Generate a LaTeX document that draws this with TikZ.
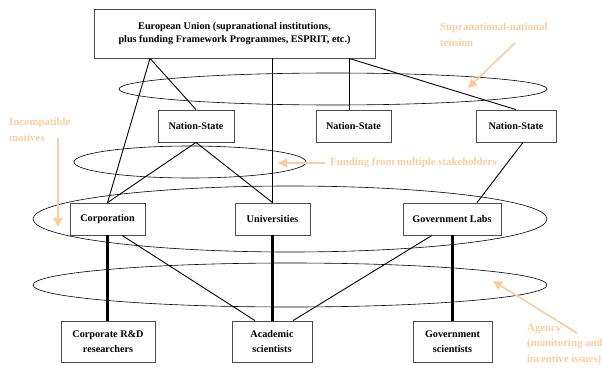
\documentclass[tikz,border=0pt]{standalone}
\usepackage{fontspec}
\setmainfont{Liberation Serif}
\usetikzlibrary{arrows.meta}
\definecolor{peach}{RGB}{253,204,158}
\begin{document}
\begin{tikzpicture}[x=1pt, y=-1pt,
    every node/.style={font=\bfseries\fontsize{10.2}{13}\selectfont},
    box/.style={draw=black!70, line width=0.8pt, fill=white, inner sep=0pt, align=center, minimum height=32pt},
    tallbox/.style={box, minimum height=41pt, font=\bfseries\fontsize{10.2}{14.5}\selectfont},
    link/.style={line width=0.9pt},
    heavy/.style={line width=3pt},
    ring/.style={line width=0.6pt},
    note/.style={text=peach, align=left, inner sep=0pt, font=\bfseries\fontsize{10.8}{15.5}\selectfont},
    notearrow/.style={draw=peach, line width=1.6pt, -{Triangle[width=9pt,length=9pt]}}]
  \useasboundingbox (0,0) rectangle (602,372);
  % 椭圆
  \draw[ring] (333,89) ellipse (214 and 16);
  \draw[ring] (190,162) ellipse (116 and 16);
  \draw[ring] (290,219) ellipse (257 and 33);
  \draw[ring] (290,285) ellipse (257 and 22);
  % 欧盟
  \node[box, minimum width=281pt, minimum height=49pt] (eu) at (234.5,33.5)
    {European Union (supranational institutions,\\plus funding Framework Programmes, ESPRIT, etc.)};
  % 国家
  \node[box, minimum width=76pt] (ns1) at (196,126) {Nation-State};
  \node[box, minimum width=75pt] (ns2) at (353.5,126) {Nation-State};
  \node[box, minimum width=80pt] (ns3) at (516,126) {Nation-State};
  % 机构
  \node[box, minimum width=75pt] (corp) at (107.5,219) {Corporation};
  \node[box, minimum width=75pt] (univ) at (272.5,219) {Universities};
  \node[box, minimum width=98pt] (govlab) at (452,219) {Government Labs};
  % 科研人员
  \node[tallbox, minimum width=94pt] (corprd) at (108,341.5) {Corporate R\&D\\researchers};
  \node[tallbox, minimum width=80pt] (acad) at (272,341.5) {Academic\\scientists};
  \node[tallbox, minimum width=79pt] (govsci) at (452.5,341.5) {Government\\scientists};
  % 欧盟 -> 国家, 机构
  \coordinate (eua) at ([xshift=-84.5pt]eu.south);
  \coordinate (eub) at ([xshift=114.5pt]eu.south);
  \draw[link] (eua) -- (corp.north);
  \draw[link] (eua) -- (ns1.north);
  \draw[link] (eu.south -| univ.north) -- (univ.north);
  \draw[link] (eub) -- (eub |- ns2.north);
  \draw[link] (eub) -- (ns3.north);
  % 国家 -> 机构
  \draw[link] (ns1.south) -- (corp.north);
  \draw[link] (ns1.south) -- (univ.north);
  \draw[link] ([xshift=7pt]ns3.south) -- ([xshift=25pt]govlab.north);
  % 机构 -> 科研人员
  \draw[heavy] (corp.south) -- (corp.south |- corprd.north);
  \draw[heavy] (univ.south) -- (univ.south |- acad.north);
  \draw[heavy] (govlab.south) -- (govlab.south |- govsci.north);
  \draw[link] ([xshift=14.5pt]corp.south) -- ([xshift=-17pt]acad.north);
  \draw[link] ([xshift=-20pt]govlab.south) -- ([xshift=21pt]acad.north);
  % 注释
  \node[note, anchor=north west] (tension) at (440,23) {Supranational-national\\tension};
  \node[note, anchor=north west] (motives) at (9,118) {Incompatible\\motives};
  \node[note, anchor=west] (funding) at (330,163) {Funding from multiple stakeholders};
  \node[note, anchor=north west] (agency) at (527,324) {Agency\\(monitoring and\\incentive issues)};
  \coordinate (tensiontip) at (468,88);
  \coordinate (fundingtip) at (278,163);
  \coordinate (motivestip) at (58,227);
  \coordinate (agencytip) at (493,281);
  \draw[notearrow] (515,43) -- (tensiontip);
  \draw[notearrow] ([xshift=-5pt]funding.west) -- (fundingtip);
  \draw[notearrow] (58,138) -- (motivestip);
  \draw[notearrow] (577,333) -- (agencytip);
\end{tikzpicture}
\end{document}
